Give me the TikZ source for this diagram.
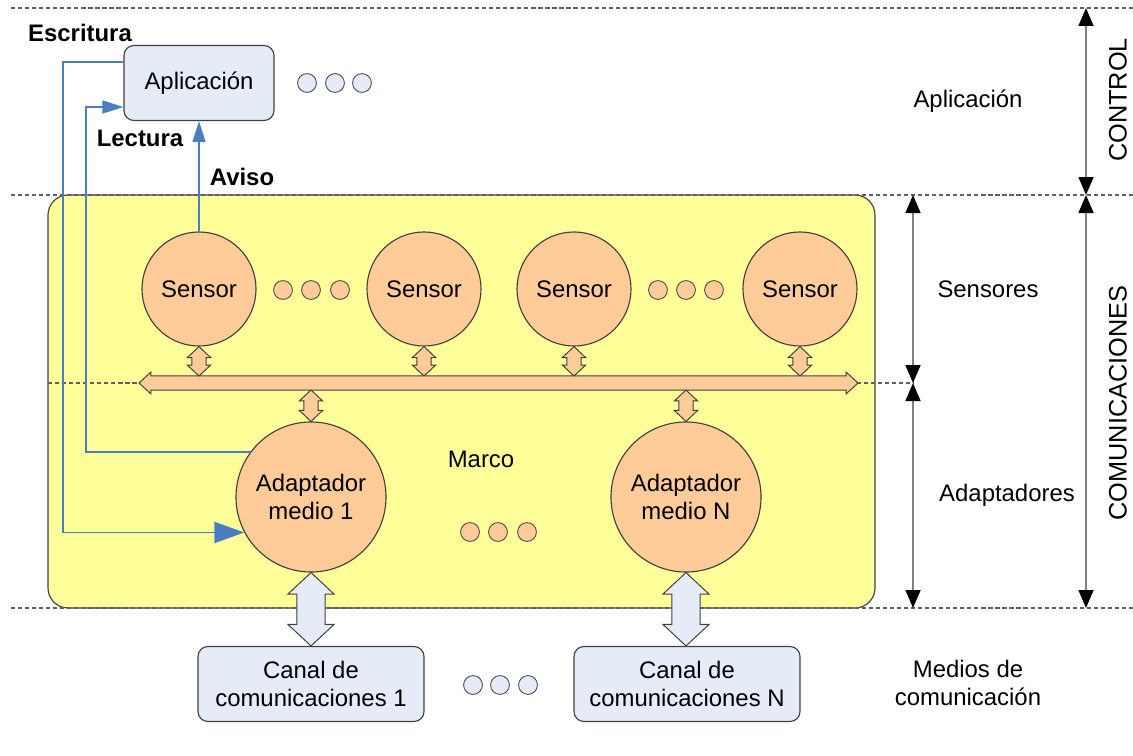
\documentclass[tikz,border=0pt]{standalone}
\usepackage{fontspec}
\setmainfont{Liberation Sans}
\usetikzlibrary{arrows.meta,calc}
\definecolor{yel}{HTML}{FFFF99}
\definecolor{peach}{HTML}{FFCC99}
\definecolor{lblue}{HTML}{E6ECF7}
\definecolor{bline}{HTML}{4A7EC1}
\definecolor{edgec}{HTML}{404040}
\definecolor{dimc}{HTML}{808080}
\definecolor{sepc}{HTML}{606060}
\newcommand\fatV[6]{\draw[#1] let \p1=(#2), \p2=(#3) in (\x1,\y1) -- (\x1+#5,\y1-#6) -- (\x1+#4,\y1-#6) -- (\x1+#4,\y2+#6) -- (\x1+#5,\y2+#6) -- (\x1,\y2) -- (\x1-#5,\y2+#6) -- (\x1-#4,\y2+#6) -- (\x1-#4,\y1-#6) -- (\x1-#5,\y1-#6) -- cycle;}
\newcommand\fatH[6]{\draw[#1] let \p1=(#2), \p2=(#3) in (\x1,\y1) -- (\x1+#6,\y1+#5) -- (\x1+#6,\y1+#4) -- (\x2-#6,\y1+#4) -- (\x2-#6,\y1+#5) -- (\x2,\y1) -- (\x2-#6,\y1-#5) -- (\x2-#6,\y1-#4) -- (\x1+#6,\y1-#4) -- (\x1+#6,\y1-#5) -- cycle;}
\begin{document}
\begin{tikzpicture}[x=0.025cm,y=-0.025cm,font=\fontsize{17}{20}\selectfont,
  sensorc/.style={circle,draw=edgec,fill=peach,minimum size=2.85cm,inner sep=0pt,line width=0.8pt,align=center},
  adapc/.style={circle,draw=edgec,fill=peach,minimum size=3.75cm,inner sep=0pt,line width=0.8pt,align=center},
  dotp/.style={circle,draw=edgec,fill=peach,minimum size=0.47cm,inner sep=0pt,line width=0.6pt},
  dotb/.style={circle,draw=edgec,fill=lblue,minimum size=0.47cm,inner sep=0pt,line width=0.6pt},
  boxb/.style={rectangle,rounded corners=0.25cm,draw=edgec,fill=lblue,line width=0.8pt,align=center,inner sep=0pt},
  bl/.style={draw=bline,line width=1.4pt},
  dimln/.style={draw=dimc,line width=1pt,{Triangle[length=12.8pt,width=10.7pt,color=black]}-{Triangle[length=12.8pt,width=10.7pt,color=black]}},
  sepln/.style={draw=sepc,line width=0.8pt,dash pattern=on 3pt off 2pt},
  fatp/.style={draw=edgec,fill=peach,line width=0.7pt,line join=miter},
  fatb/.style={draw=edgec,fill=lblue,line width=0.7pt,line join=miter},
  lbl/.style={inner sep=0pt,align=center}]
\useasboundingbox (0,0) rectangle (1133,756);
% frame
\draw[draw=edgec,fill=yel,rounded corners=0.5cm,line width=0.8pt] (48,195) rectangle (875,608);
% separators
\draw[sepln] (11,8) -- (1133,8);
\draw[sepln] (11,195) -- (1133,195);
\draw[sepln] (11,608) -- (1133,608);
\draw[sepln] (48,383) -- (913,383);
% application
\node[boxb,minimum width=3.75cm,minimum height=1.875cm] (app) at (199,83) {Aplicación};
\node[dotb] (ad1) at (307,83) {};
\node[dotb] (ad2) at (335,83) {};
\node[dotb] (ad3) at (362,83) {};
% sensors
\node[sensorc] (s1) at (199,289) {Sensor};
\node[sensorc] (s2) at (424,289) {Sensor};
\node[sensorc] (s3) at (574,289) {Sensor};
\node[sensorc] (s4) at (800,289) {Sensor};
\node[dotp] (sd1) at (283,290) {};
\node[dotp] (sd2) at (311,290) {};
\node[dotp] (sd3) at (340,290) {};
\node[dotp] (sd4) at (658,290) {};
\node[dotp] (sd5) at (686,290) {};
\node[dotp] (sd6) at (714,290) {};
% bus
\coordinate (busL) at (139,383);
\coordinate (busR) at (858,383);
\coordinate (busTop) at (139,376);
\coordinate (busBot) at (139,390);
\fatH{fatp}{busL}{busR}{5pt}{7.8pt}{8.5pt}
\foreach \s in {s1,s2,s3,s4}{\fatV{fatp}{\s.south}{\s.south |- busTop}{5pt}{8.3pt}{7.8pt}}
% adapters
\node[adapc] (a1) at (311,497) {Adaptador\\medio 1};
\node[adapc] (aN) at (686,497) {Adaptador\\medio N};
\foreach \a in {a1,aN}{\fatV{fatp}{\a.north |- busBot}{\a.north}{5pt}{8.3pt}{7.8pt}}
\node[lbl] (marco) at (481,459) {Marco};
\node[dotp] (md1) at (470,532) {};
\node[dotp] (md2) at (498,532) {};
\node[dotp] (md3) at (527,532) {};
% channels
\node[boxb,minimum width=5.65cm,minimum height=1.875cm] (c1) at (311,684) {Canal de\\comunicaciones 1};
\node[boxb,minimum width=5.65cm,minimum height=1.875cm] (cN) at (687,684) {Canal de\\comunicaciones N};
\node[dotb] (cd1) at (473,685) {};
\node[dotb] (cd2) at (500,685) {};
\node[dotb] (cd3) at (528,685) {};
\fatV{fatb}{a1.south}{a1.south |- c1.north}{10pt}{16.4pt}{15.3pt}
\fatV{fatb}{aN.south}{aN.south |- cN.north}{10pt}{16.4pt}{15.3pt}
% blue signals
\draw[bl,-{Triangle[length=21.3pt,width=15pt,color=bline]}] ($(app.west)+(0,-21)$) -- (63,62) |- (a1.208.7);
\draw[bl,-{Triangle[length=15pt,width=9.2pt,color=bline]}] (a1.143.13) -| (86,107) -- ($(app.west)+(0,24)$);
\draw[bl,-{Triangle[length=15pt,width=9.2pt,color=bline]}] (s1.north) -- (app.south);
\node[lbl,font=\fontsize{17}{20}\selectfont\bfseries] (esc) at (80,33) {Escritura};
\node[lbl,font=\fontsize{17}{20}\selectfont\bfseries] (lec) at (140,138) {Lectura};
\node[lbl,font=\fontsize{17}{20}\selectfont\bfseries] (avi) at (242,177) {Aviso};
% right side
\node[lbl] (lapp) at (968,101) {Aplicación};
\node[lbl] (lsen) at (988,289) {Sensores};
\node[lbl] (lada) at (1007,495) {Adaptadores};
\node[lbl] (lmed) at (968,683) {Medios de\\comunicación};
\coordinate (d1a) at (913,195);
\coordinate (d1b) at (913,383);
\coordinate (d1c) at (913,608);
\coordinate (d2a) at (1086,8);
\coordinate (d2b) at (1086,195);
\coordinate (d2c) at (1086,608);
\draw[dimln] (d1a) -- (d1b);
\draw[dimln] (d1b) -- (d1c);
\draw[dimln] (d2a) -- (d2b);
\draw[dimln] (d2b) -- (d2c);
\node[lbl,rotate=90,font=\fontsize{18}{21}\selectfont] (ctl) at (1118,100) {CONTROL};
\node[lbl,rotate=90,font=\fontsize{18}{21}\selectfont] (com) at (1118,403) {COMUNICACIONES};
\end{tikzpicture}
\end{document}
